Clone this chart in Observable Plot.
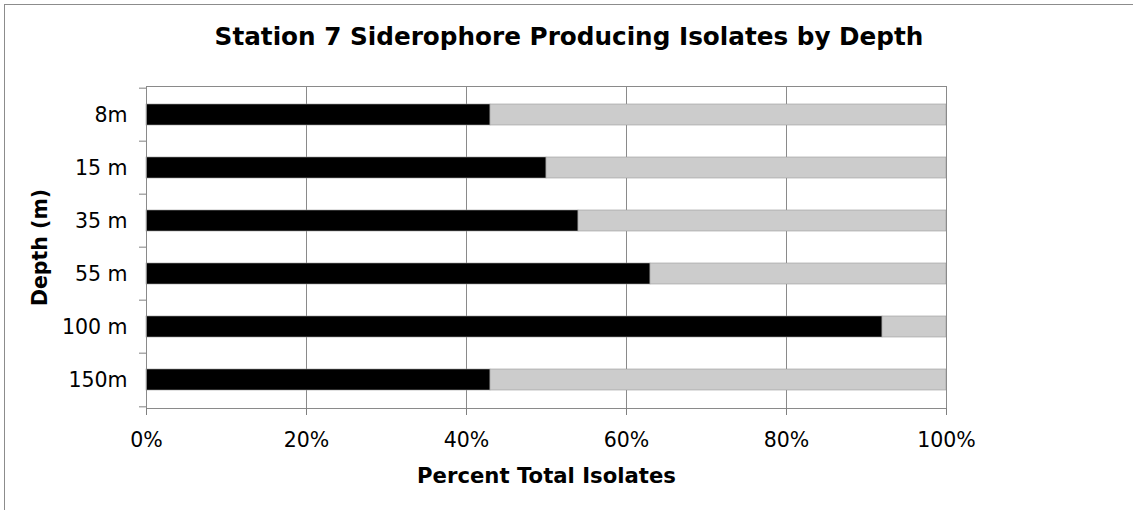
<!DOCTYPE html>
<html>
<head>
<meta charset="utf-8">
<script src="https://cdn.jsdelivr.net/npm/d3@7"></script>
<script src="https://cdn.jsdelivr.net/npm/@observablehq/plot@0.6"></script>
<style>
  body { margin: 0; background: #fff; }
  #wrap { position: relative; width: 1133px; height: 510px; overflow: hidden; background: #fff;
          font-family: "DejaVu Sans", Verdana, sans-serif; }
  #frameTop { position: absolute; left: 4px; top: 4px; right: 0; height: 0; border-top: 1px solid #8c8c8c; z-index: 2; }
  #frameLeft { position: absolute; left: 4px; top: 4px; bottom: 0; width: 0; border-left: 1px solid #8c8c8c; z-index: 2; }
  #title { position: absolute; left: 0; top: 0; width: 1138px; height: 60px; text-align: center;
           font-weight: bold; font-size: 24.7px; line-height: 24.7px; padding-top: 24.5px; box-sizing: border-box; color: #000; }
  #chart { position: absolute; left: 0; top: 60px; }
  #chart svg { background: transparent !important; }
</style>
</head>
<body>
<div id="wrap">
  <div id="title">Station 7 Siderophore Producing Isolates by Depth</div>
  <div id="chart"></div>
  <div id="frameTop"></div>
  <div id="frameLeft"></div>
</div>
<script>
const depths = ["8m", "15 m", "35 m", "55 m", "100 m", "150m"];
const producing = [43, 50, 54, 63, 92, 43];
const nonProducing = [57, 50, 46, 37, 8, 57];
const xTicks = [0, 20, 40, 60, 80, 100];
const groups = ["Siderophore producing", "Non-producing"];
const groupColors = ["#000000", "#cccccc"];

const rows = depths.flatMap((d, i) => [
  { depth: d, group: groups[0], value: producing[i] },
  { depth: d, group: groups[1], value: nonProducing[i] }
]);

const W = 1133, H = 450, mT = 26, mB = 102, mL = 146, mR = 187;
const step = (H - mT - mB) / depths.length;

const chart = Plot.plot({
  width: W, height: H,
  marginTop: mT, marginBottom: mB, marginLeft: mL, marginRight: mR,
  style: { fontFamily: "'DejaVu Sans', Verdana, sans-serif", fontSize: "20.5px", color: "#000", background: "transparent", overflow: "visible" },
  x: { domain: [0, 100] },
  y: { domain: depths, paddingInner: 0.6, paddingOuter: 0.3 },
  color: { domain: groups, range: groupColors },
  marks: [
    Plot.gridX(xTicks, { stroke: "#8a8a8a", strokeOpacity: 1, strokeWidth: 1 }),
    Plot.barX(rows, Plot.stackX({ y: "depth", x: "value", fill: "group", order: null,
      stroke: "#9a9a9a", strokeWidth: 0.6 })),
    Plot.frame({ stroke: "#8a8a8a" }),
    Plot.axisX(xTicks, { tickFormat: d => d + "%", tickSize: 7, tickPadding: 17, stroke: "#808080", fill: "#000", label: null }),
    Plot.axisY({ tickSize: 0, tickPadding: 19, fill: "#000", label: null }),
    Plot.axisY({ tickSize: 7, text: null, stroke: "#808080", dy: -step / 2, label: null }),
    Plot.axisY([depths[depths.length - 1]], { tickSize: 7, text: null, stroke: "#808080", dy: step / 2, label: null }),
    Plot.text(["Percent Total Isolates"], { frameAnchor: "bottom", textAnchor: "middle", lineAnchor: "top", dy: 59, fontWeight: "bold", fontSize: 21.2, fill: "#000" }),
    Plot.text(["Depth (m)"], { frameAnchor: "left", textAnchor: "middle", rotate: -90, dx: -106, fontWeight: "bold", fontSize: 20.5, fill: "#000" })
  ]
});
document.getElementById("chart").appendChild(chart);
</script>
</body>
</html>
